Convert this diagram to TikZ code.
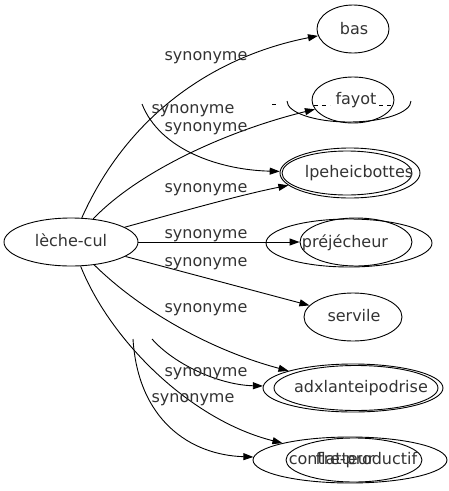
\documentclass[tikz,border=0pt]{standalone}
\usepackage{fontspec}
\setmainfont{DejaVu Sans}
\usetikzlibrary{arrows.meta,shapes.geometric}

\begin{document}
\begin{tikzpicture}[x=1pt, y=-1pt,
  oval/.style={draw, ellipse, inner sep=0pt, line width=0.9pt},
  word/.style={text=black!80, font=\fontsize{16}{19}\selectfont, inner sep=0pt, text height=12pt, text depth=3.5pt},
  syn/.style={line width=0.9pt, -{Triangle[length=10pt,width=7pt]}},
]
\useasboundingbox (0,0) rectangle (449,491);

% the word and its synonyms
\node[oval, minimum width=134pt, minimum height=48pt] (lc) at (71,242) {};
\node[word] (lc-t) at (lc) {lèche-cul};

\node[oval, minimum width=72pt, minimum height=48pt] (bas) at (353,29) {};
\node[word] (bas-t) at (354,30) {bas};

\node[oval, minimum width=82pt, minimum height=46pt] (fay) at (353,100) {};
\node[word] (fay-t) at (356,100) {fayot};

\node[oval, minimum width=140pt, minimum height=50pt] (bot) at (350,173) {};
\node[oval, minimum width=130pt, minimum height=44pt] (bot2) at (347,173) {};
\node[word] (bot-t) at (359,173) {lpeheicbottes};

\node[oval, minimum width=112pt, minimum height=48pt] (pre) at (356,242) {};
\node[oval, minimum width=166pt, minimum height=48pt] (pre2) at (349,243) {};
\node[word] (pre-t) at (345,243) {préjécheur};

\node[oval, minimum width=98pt, minimum height=48pt] (ser) at (353,317) {};
\node[word] (ser-t) at (354,317) {servile};

\node[oval, minimum width=180pt, minimum height=48pt] (adu) at (353,388) {};
\node[oval, minimum width=164pt, minimum height=45pt] (adu2) at (356,388) {};
\node[word] (adu-t) at (361,388) {adxlanteipodrise};

\node[oval, minimum width=194pt, minimum height=46pt] (con) at (350,460) {};
\node[oval, minimum width=136pt, minimum height=44pt] (con2) at (354,460) {};
\node[word] (con-t) at (353,460) {contre-productif};
\node[word] (con-t2) at (345,460) {flatteur};

% loose ends
\coordinate (fay-x) at (142,104);
\coordinate (adu-x) at (152,339);
\coordinate (con-x) at (133,339);

% edges
\draw[syn] (lc) .. controls (130,110) and (220,55) .. (bas);
\draw[syn] (lc) .. controls (140,170) and (230,130) .. (fay);
\draw[syn] (fay-x) .. controls (160,150) and (220,170) .. (bot);
\draw[syn] (lc) .. controls (180,212) and (240,195) .. (bot);
\draw[syn] (lc) -- (pre);
\draw[syn] (lc) -- (ser);
\draw[syn] (lc) .. controls (140,310) and (210,350) .. (adu);
\draw[syn] (adu-x) .. controls (175,365) and (220,385) .. (adu);
\draw[syn] (lc) .. controls (110,340) and (190,420) .. (con);
\draw[syn] (con-x) .. controls (138,420) and (190,455) .. (con);

% labels
\node[word] (l-bas) at (206,56) {synonyme};
\node[word] (l-x) at (193,109) {synonyme};
\node[word] (l-fay) at (206,127) {synonyme};
\node[word] (l-bot) at (206,188) {synonyme};
\node[word] (l-pre) at (206,234) {synonyme};
\node[word] (l-ser) at (206,262) {synonyme};
\node[word] (l-ser2) at (206,308) {synonyme};
\node[word] (l-adu) at (206,372) {synonyme};
\node[word] (l-con) at (193,398) {synonyme};

% leftovers round fayot
\draw[line width=0.9pt] (287,101) arc[start angle=180, end angle=0, x radius=62, y radius=21];
\draw[line width=0.8pt, dash pattern=on 4pt off 4pt] (314,105) -- (330,105);
\draw[line width=0.8pt, dash pattern=on 4pt off 4pt] (379,105) -- (393,105);
\draw[line width=0.8pt] (272,104) -- (276,104);
\end{tikzpicture}
\end{document}
